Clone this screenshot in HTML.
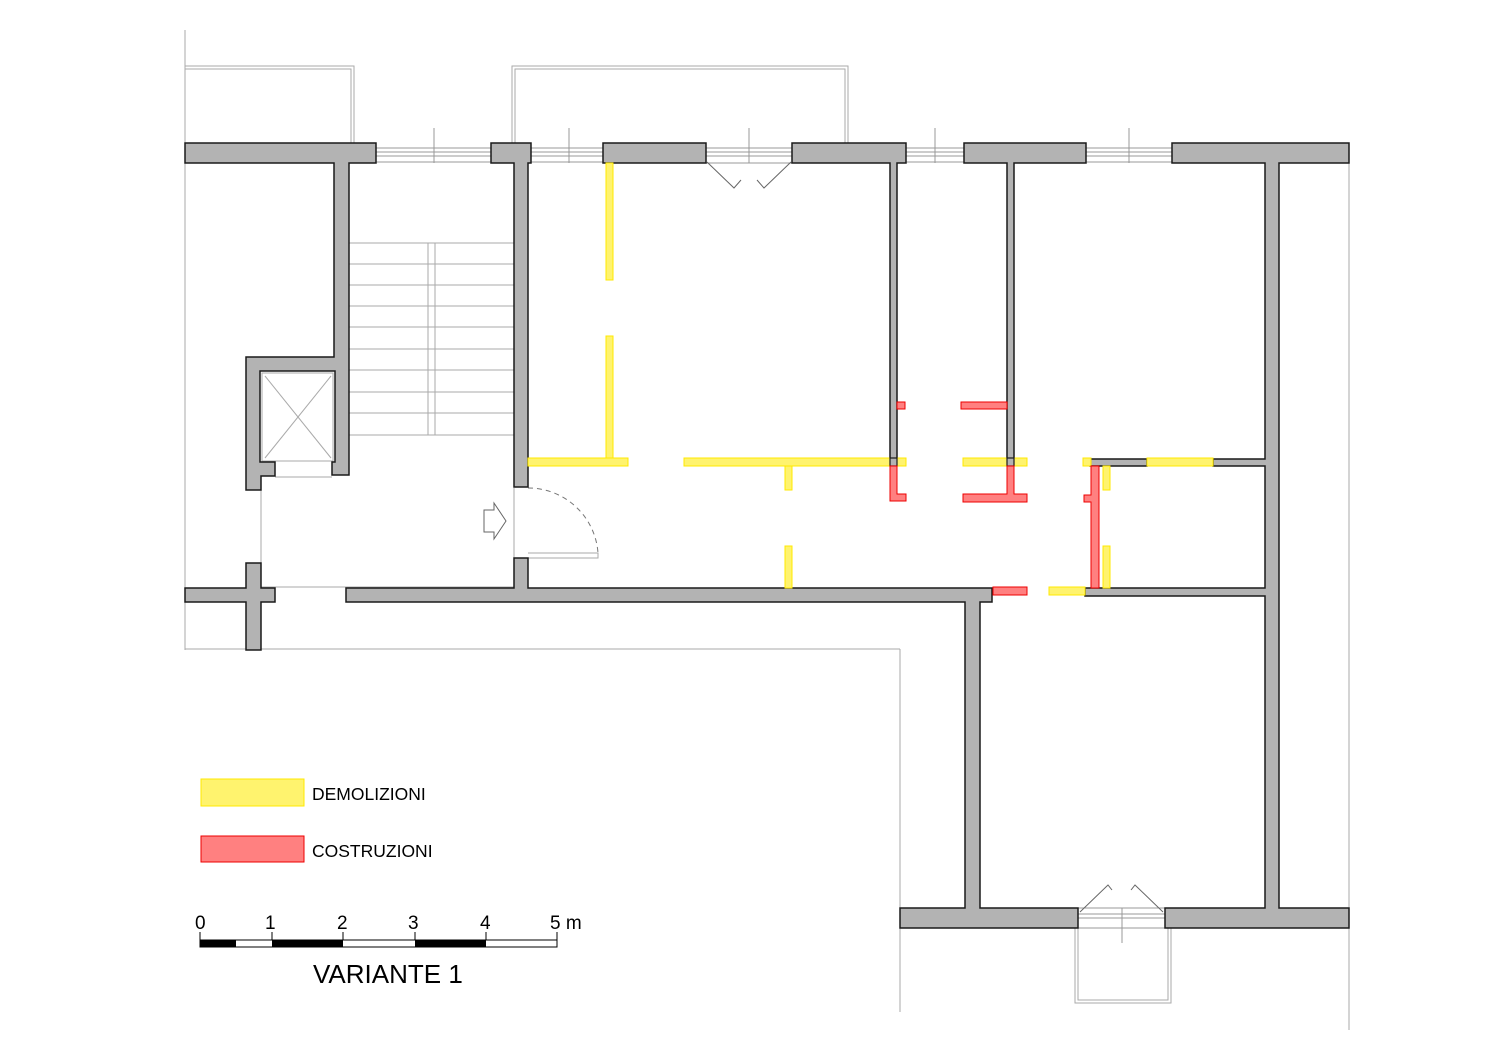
<!DOCTYPE html>
<html><head><meta charset="utf-8"><style>
html,body{margin:0;padding:0;background:#fff;}
svg{display:block;}
text{font-family:"Liberation Sans",Arial,sans-serif;fill:#000;}
</style></head><body>
<svg width="1500" height="1060" viewBox="0 0 1500 1060" xmlns="http://www.w3.org/2000/svg">
<g fill="none" stroke="#aaa" stroke-width="1">
<line x1="185" y1="30" x2="185" y2="650"/>
<line x1="185" y1="649" x2="900" y2="649"/>
<line x1="900" y1="649" x2="900" y2="1012"/>
<line x1="1349" y1="163" x2="1349" y2="1030"/>
<polyline points="185,66 354,66 354,143"/>
<polyline points="185,69 351,69 351,143"/>
<polyline points="512,143 512,66 848,66 848,143"/>
<polyline points="515,143 515,69 845,69 845,143"/>
<polyline points="1078,928 1078,1000 1168,1000 1168,928"/>
<polyline points="1075,928 1075,1003 1171,1003 1171,928"/>
<g stroke="#999">
<line x1="376" y1="148" x2="491" y2="148"/><line x1="376" y1="152" x2="491" y2="152"/><line x1="376" y1="156" x2="491" y2="156"/><line x1="376" y1="162" x2="491" y2="162"/>
<line x1="531" y1="148" x2="603" y2="148"/><line x1="531" y1="152" x2="603" y2="152"/><line x1="531" y1="156" x2="603" y2="156"/><line x1="531" y1="162" x2="603" y2="162"/>
<line x1="706" y1="148" x2="792" y2="148"/><line x1="706" y1="152" x2="792" y2="152"/><line x1="706" y1="156" x2="792" y2="156"/><line x1="706" y1="163" x2="792" y2="163"/>
<line x1="906" y1="148" x2="964" y2="148"/><line x1="906" y1="152" x2="964" y2="152"/><line x1="906" y1="156" x2="964" y2="156"/><line x1="906" y1="162" x2="964" y2="162"/>
<line x1="1086" y1="148" x2="1172" y2="148"/><line x1="1086" y1="152" x2="1172" y2="152"/><line x1="1086" y1="156" x2="1172" y2="156"/><line x1="1086" y1="162" x2="1172" y2="162"/>
<line x1="1078" y1="908" x2="1165" y2="908"/><line x1="1078" y1="914" x2="1165" y2="914"/><line x1="1078" y1="918" x2="1165" y2="918"/><line x1="1078" y1="928" x2="1165" y2="928"/>
<line x1="434" y1="128" x2="434" y2="163"/><line x1="569" y1="128" x2="569" y2="163"/><line x1="935" y1="128" x2="935" y2="163"/><line x1="1129" y1="128" x2="1129" y2="163"/>
<line x1="749" y1="128" x2="749" y2="163"/><line x1="1122" y1="908" x2="1122" y2="943"/>
</g>
<g stroke="#666">
<polyline points="707,162 734,188 741,180"/><polyline points="791,162 764,188 757,180"/>
<polyline points="1080,912 1108,885 1112,890"/><polyline points="1163,912 1135,885 1131,890"/>
</g>
<g stroke="#aaa">
<line x1="349" y1="243" x2="514" y2="243"/><line x1="349" y1="264" x2="514" y2="264"/><line x1="349" y1="285" x2="514" y2="285"/><line x1="349" y1="306" x2="514" y2="306"/><line x1="349" y1="327" x2="514" y2="327"/><line x1="349" y1="349" x2="514" y2="349"/><line x1="349" y1="370" x2="514" y2="370"/><line x1="349" y1="392" x2="514" y2="392"/><line x1="349" y1="413" x2="514" y2="413"/><line x1="349" y1="435" x2="514" y2="435"/>
<rect x="428" y="243" width="7" height="192"/>
<line x1="275" y1="477" x2="332" y2="477"/>
<polyline points="261,490 261,588"/>
<line x1="261" y1="587" x2="514" y2="587"/>
<line x1="514" y1="488" x2="514" y2="558"/>
<polyline points="528,553 598,553 598,558 528,558"/>
<rect x="262" y="373" width="71" height="88"/>
<line x1="265" y1="376" x2="331" y2="458"/><line x1="331" y1="376" x2="265" y2="458"/>
</g>
<path d="M528,488 A70,70 0 0 1 598,553" stroke="#777" stroke-dasharray="5,4"/>
<polygon points="484,510 494,510 494,503 506,521 494,539 494,532 484,532" stroke="#666" fill="#fff"/>
</g>
<g fill="#b3b3b3" stroke="#1a1a1a" stroke-width="1.5">
<polygon points="185,143 376,143 376,163 349,163 349,475 332,475 332,462 335,462 335,371 260,371 260,462 275,462 275,476 261,476 261,490 246,490 246,357 334,357 334,163 185,163"/>
<polygon points="491,143 531,143 531,163 528,163 528,487 514,487 514,163 491,163"/>
<rect x="603" y="143" width="103" height="20"/>
<polygon points="792,143 906,143 906,163 897,163 897,462 890,462 890,163 792,163"/>
<polygon points="964,143 1086,143 1086,163 1014,163 1014,462 1007,462 1007,163 964,163"/>
<polygon points="1172,143 1349,143 1349,163 1279,163 1279,908 1349,908 1349,928 1165,928 1165,908 1265,908 1265,596 1085,596 1085,588 1265,588 1265,466 1213,466 1213,459 1265,459 1265,163 1172,163"/>
<rect x="1090" y="459" width="57" height="7"/>
<polygon points="514,558 528,558 528,588 992,588 992,602 980,602 980,908 1078,908 1078,928 900,928 900,908 965,908 965,602 346,602 346,588 514,588"/>
<polygon points="246,563 261,563 261,588 275,588 275,602 261,602 261,650 246,650 246,602 185,602 185,588 246,588"/>
</g>
<g fill="#fff36e" stroke="#ffe800" stroke-width="1">
<rect x="606" y="163" width="7" height="117"/>
<rect x="606" y="336" width="7" height="122"/>
<rect x="528" y="458" width="100" height="8"/>
<rect x="684" y="458" width="222" height="8"/>
<rect x="785" y="466" width="7" height="24"/>
<rect x="785" y="546" width="7" height="42"/>
<rect x="963" y="458" width="64" height="8"/>
<rect x="1083" y="458" width="8" height="8"/>
<rect x="1147" y="458" width="66" height="8"/>
<rect x="1103" y="466" width="7" height="24"/>
<rect x="1103" y="546" width="7" height="42"/>
<rect x="1049" y="587" width="36" height="8"/>
<rect x="201" y="779" width="103" height="27"/>
</g>
<g fill="#b3b3b3" stroke="#1a1a1a" stroke-width="1.2">
<rect x="890" y="458" width="7" height="8"/><rect x="1007" y="458" width="7" height="8"/>
</g>
<g fill="#ff8080" stroke="#e00" stroke-width="1">
<rect x="897" y="402" width="8" height="7"/>
<rect x="961" y="402" width="46" height="7"/>
<polygon points="890,466 897,466 897,494 906,494 906,501 890,501"/>
<polygon points="1007,466 1014,466 1014,494 1027,494 1027,502 963,502 963,494 1007,494"/>
<polygon points="1091,466 1099,466 1099,588 1091,588 1091,502 1084,502 1084,495 1091,495"/>
<rect x="993" y="587" width="34" height="8"/>
<rect x="201" y="836" width="103" height="26"/>
</g>
<text x="312" y="800" font-size="17.5">DEMOLIZIONI</text>
<text x="312" y="857" font-size="17.5">COSTRUZIONI</text>
<g font-size="19">
<text x="195" y="929">0</text><text x="265" y="929">1</text><text x="337" y="929">2</text><text x="408" y="929">3</text><text x="480" y="929">4</text><text x="550" y="929">5 m</text>
</g>
<g stroke="#000" stroke-width="1">
<line x1="200" y1="932" x2="200" y2="947"/><line x1="272" y1="932" x2="272" y2="947"/><line x1="343" y1="932" x2="343" y2="947"/><line x1="415" y1="932" x2="415" y2="947"/><line x1="486" y1="932" x2="486" y2="947"/><line x1="557" y1="932" x2="557" y2="947"/>
<rect x="200" y="940" width="357" height="7" fill="#fff"/>
</g>
<g fill="#000">
<rect x="200" y="940" width="36" height="7"/><rect x="272" y="940" width="71" height="7"/><rect x="415" y="940" width="71" height="7"/>
</g>
<text x="313" y="983" font-size="26">VARIANTE 1</text>
</svg>
</body></html>
